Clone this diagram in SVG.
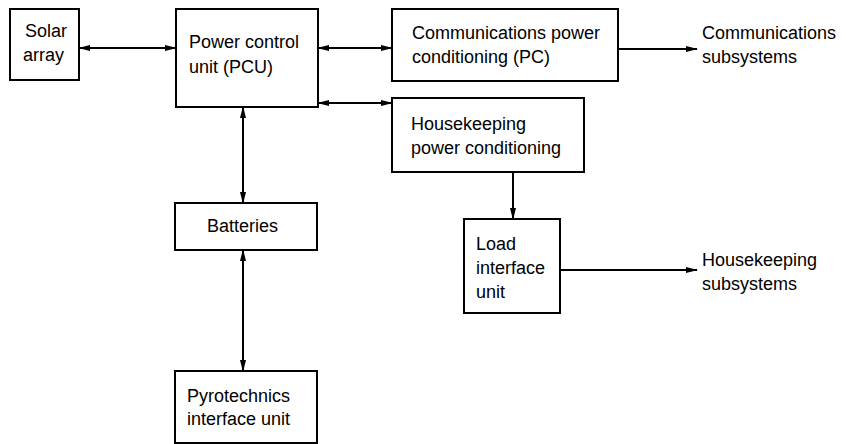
<svg xmlns="http://www.w3.org/2000/svg" width="846" height="444" viewBox="0 0 846 444">
<style>
.box{fill:#fff;stroke:#000;stroke-width:2}
.ln{fill:none;stroke:#000;stroke-width:2}
text{font-family:"Liberation Sans",Arial,sans-serif;font-size:18px;fill:#000}
</style>
<defs>
<marker id="ah" markerWidth="12" markerHeight="8" refX="11" refY="4" orient="auto-start-reverse" markerUnits="userSpaceOnUse">
<path d="M0,1 L12,4 L0,7 Z" fill="#000"/>
</marker>
</defs>
<rect width="846" height="444" fill="#fff"/>
<g id="connectors">
<line class="ln" x1="79" y1="48" x2="176" y2="48" marker-start="url(#ah)" marker-end="url(#ah)"/>
<line class="ln" x1="318" y1="48" x2="392" y2="48" marker-start="url(#ah)" marker-end="url(#ah)"/>
<line class="ln" x1="318" y1="103" x2="392" y2="103" marker-start="url(#ah)" marker-end="url(#ah)"/>
<line class="ln" x1="618" y1="49" x2="697" y2="49" marker-end="url(#ah)"/>
<line class="ln" x1="513" y1="172" x2="513" y2="219" marker-end="url(#ah)"/>
<line class="ln" x1="560" y1="270" x2="697" y2="270" marker-end="url(#ah)"/>
<line class="ln" x1="243" y1="107" x2="243" y2="203" marker-start="url(#ah)" marker-end="url(#ah)"/>
<line class="ln" x1="243" y1="250" x2="243" y2="371" marker-start="url(#ah)" marker-end="url(#ah)"/>
</g>
<g id="solar">
<rect class="box" x="10" y="9" width="69" height="71"/>
<text x="25" y="37">Solar</text>
<text x="23" y="61">array</text>
</g>
<g id="pcu">
<rect class="box" x="176" y="9" width="142" height="98"/>
<text x="189" y="48">Power control</text>
<text x="189" y="73">unit (PCU)</text>
</g>
<g id="commpc">
<rect class="box" x="392" y="9" width="226" height="72"/>
<text x="412" y="39">Communications power</text>
<text x="412" y="63">conditioning (PC)</text>
</g>
<g id="commsub">
<text x="702" y="39">Communications</text>
<text x="702" y="63">subsystems</text>
</g>
<g id="hkpc">
<rect class="box" x="392" y="98" width="192" height="74"/>
<text x="411" y="130">Housekeeping</text>
<text x="411" y="154">power conditioning</text>
</g>
<g id="load">
<rect class="box" x="464" y="219" width="96" height="94"/>
<text x="476" y="250">Load</text>
<text x="476" y="274">interface</text>
<text x="476" y="298">unit</text>
</g>
<g id="hksub">
<text x="702" y="266">Housekeeping</text>
<text x="702" y="290">subsystems</text>
</g>
<g id="batteries">
<rect class="box" x="175" y="203" width="142" height="47"/>
<text x="207" y="232">Batteries</text>
</g>
<g id="pyro">
<rect class="box" x="175" y="371" width="142" height="72"/>
<text x="187" y="402">Pyrotechnics</text>
<text x="187" y="425">interface unit</text>
</g>
</svg>
